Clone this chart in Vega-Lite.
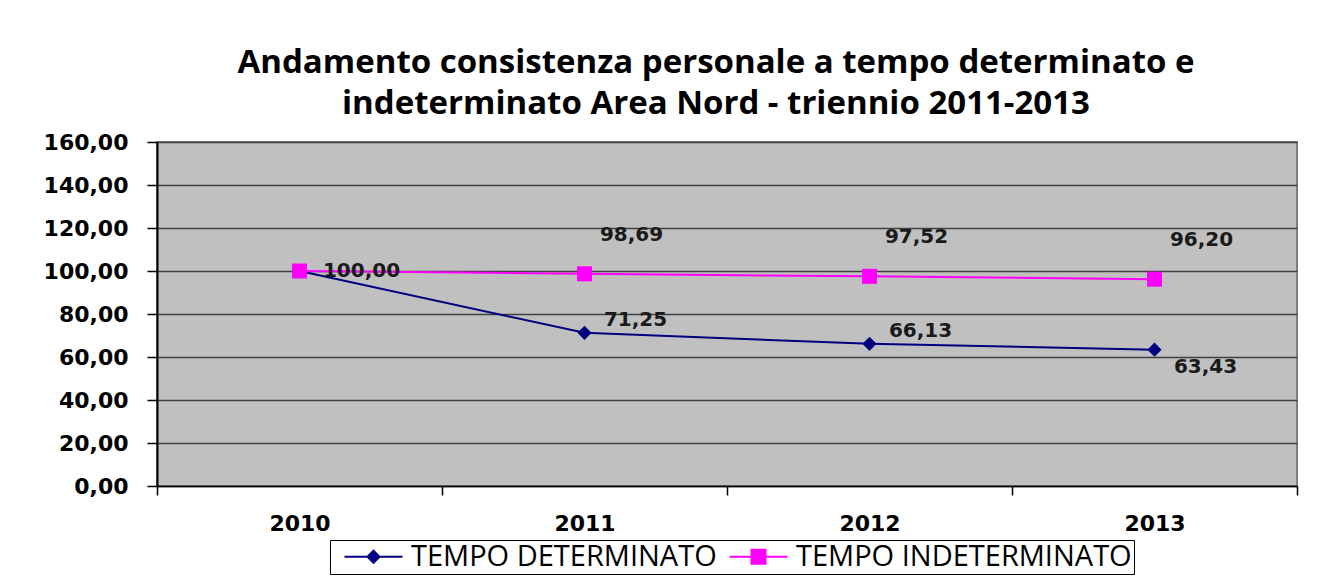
{
  "$schema": "https://vega.github.io/schema/vega-lite/v6.json",
  "width": 1140,
  "height": 344,
  "padding": {"left": 43, "top": 47, "right": 30, "bottom": 0},
  "background": "white",
  "title": {
    "text": ["Andamento consistenza personale a tempo determinato e", "indeterminato Area Nord - triennio 2011-2013"],
    "font": "Open Sans",
    "fontSize": 33,
    "fontWeight": "bold",
    "color": "#000000",
    "anchor": "middle",
    "dx": -11,
    "lineHeight": 41,
    "offset": 10
  },
  "config": {
    "locale": {"number": {"decimal": ",", "thousands": ".", "grouping": [3], "currency": ["€", ""]}},
    "view": {"fill": "#C0C0C0", "stroke": "#808080", "strokeWidth": 2},
    "axis": {"labelFont": "DejaVu Sans", "labelFontWeight": "bold", "labelColor": "#000000", "labelFontSize": 22}
  },
  "data": {
    "values": [
      {"anno": "2010", "serie": "TEMPO DETERMINATO", "valore": 100.00},
      {"anno": "2011", "serie": "TEMPO DETERMINATO", "valore": 71.25},
      {"anno": "2012", "serie": "TEMPO DETERMINATO", "valore": 66.13},
      {"anno": "2013", "serie": "TEMPO DETERMINATO", "valore": 63.43},
      {"anno": "2010", "serie": "TEMPO INDETERMINATO", "valore": 100.00},
      {"anno": "2011", "serie": "TEMPO INDETERMINATO", "valore": 98.69},
      {"anno": "2012", "serie": "TEMPO INDETERMINATO", "valore": 97.52},
      {"anno": "2013", "serie": "TEMPO INDETERMINATO", "valore": 96.20}
    ]
  },
  "encoding": {
    "x": {
      "field": "anno", "type": "nominal",
      "scale": {"type": "band", "paddingInner": 0, "paddingOuter": 0},
      "axis": {"title": null, "labelAngle": 0, "tickBand": "extent", "domainColor": "#000000", "domainWidth": 1.5, "tickColor": "#000000", "tickWidth": 1.5, "tickSize": 9, "labelPadding": 18, "grid": false}
    },
    "y": {
      "field": "valore", "type": "quantitative",
      "scale": {"domain": [0, 160], "nice": false},
      "axis": {"title": null, "values": [0, 20, 40, 60, 80, 100, 120, 140, 160], "format": ".2f", "grid": true, "gridColor": "#404040", "gridWidth": 1.5, "domainColor": "#000000", "domainWidth": 2, "tickColor": "#000000", "tickWidth": 1.5, "tickSize": 10, "labelPadding": 19}
    }
  },
  "layer": [
    {
      "mark": {"type": "line", "strokeWidth": 2},
      "encoding": {
        "color": {
          "field": "serie", "type": "nominal",
          "scale": {"domain": ["TEMPO DETERMINATO", "TEMPO INDETERMINATO"], "range": ["#000080", "#FF00FF"]},
          "legend": {
            "title": null,
            "orient": "none",
            "legendX": 173,
            "legendY": 398,
            "direction": "horizontal",
            "strokeColor": "#000000",
            "padding": 2,
            "labelFont": "Open Sans",
            "labelFontSize": 29,
            "labelLimit": 0,
            "labelColor": "#000000",
            "labelOffset": 50,
            "columnPadding": -8,
            "symbolSize": 400,
            "symbolStrokeWidth": 2,
            "encode": {
              "symbols": {
                "update": {
                  "shape": {"signal": "datum.value === 'TEMPO DETERMINATO' ? 'M-0.2,0L5.6,0M2.7,-0.6L3.3,0L2.7,0.6L2.1,0Z' : 'M-0.2,0L5.6,0M2.0,-0.7L3.4,-0.7L3.4,0.7L2.0,0.7Z'"},
                  "fill": {"signal": "datum.value === 'TEMPO DETERMINATO' ? '#000080' : '#FF00FF'"},
                  "stroke": {"signal": "datum.value === 'TEMPO DETERMINATO' ? '#000080' : '#FF00FF'"},
                  "strokeWidth": {"value": 2}
                }
              }
            }
          }
        }
      }
    },
    {
      "mark": {"type": "point", "filled": true, "opacity": 1, "shape": "diamond", "size": 200, "color": "#000080"},
      "transform": [{"filter": "datum.serie === 'TEMPO DETERMINATO'"}]
    },
    {
      "mark": {"type": "point", "filled": true, "opacity": 1, "shape": "square", "size": 225, "color": "#FF00FF"},
      "transform": [{"filter": "datum.serie === 'TEMPO INDETERMINATO'"}]
    },
    {
      "mark": {"type": "text", "font": "DejaVu Sans", "fontWeight": "bold", "fontSize": 20, "color": "#1a1a1a", "dx": 47, "dy": -39},
      "transform": [{"filter": "datum.serie === 'TEMPO INDETERMINATO' && datum.anno !== '2010'"}],
      "encoding": {"text": {"field": "valore", "type": "quantitative", "format": ".2f"}}
    },
    {
      "mark": {"type": "text", "font": "DejaVu Sans", "fontWeight": "bold", "fontSize": 20, "color": "#1a1a1a", "dx": 51, "dy": -13},
      "transform": [{"filter": "datum.serie === 'TEMPO DETERMINATO' && (datum.anno === '2011' || datum.anno === '2012')"}],
      "encoding": {"text": {"field": "valore", "type": "quantitative", "format": ".2f"}}
    },
    {
      "mark": {"type": "text", "font": "DejaVu Sans", "fontWeight": "bold", "fontSize": 20, "color": "#1a1a1a", "dx": 51, "dy": 17},
      "transform": [{"filter": "datum.serie === 'TEMPO DETERMINATO' && datum.anno === '2013'"}],
      "encoding": {"text": {"field": "valore", "type": "quantitative", "format": ".2f"}}
    },
    {
      "mark": {"type": "text", "font": "DejaVu Sans", "fontWeight": "bold", "fontSize": 20, "color": "#1a1a1a", "dx": 62, "dy": 0},
      "transform": [{"filter": "datum.serie === 'TEMPO DETERMINATO' && datum.anno === '2010'"}],
      "encoding": {"text": {"field": "valore", "type": "quantitative", "format": ".2f"}}
    }
  ]
}
